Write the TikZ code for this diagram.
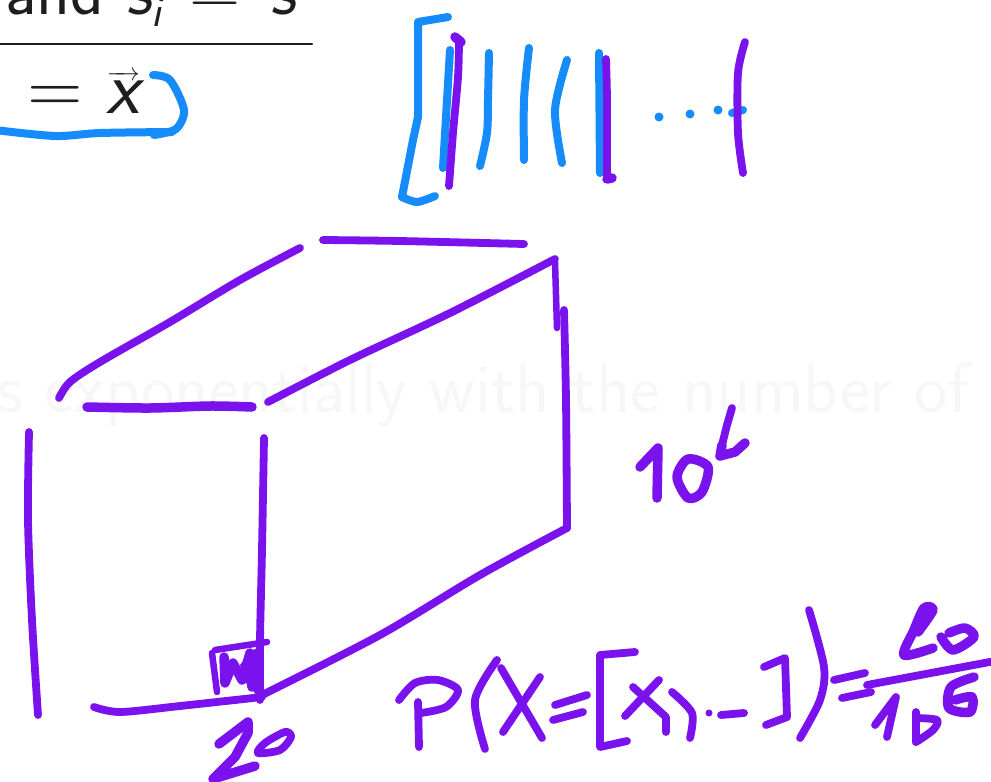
\documentclass[tikz,border=0pt]{standalone}
\usepackage{amsmath}
\definecolor{skViolet}{HTML}{7A12EE}
\definecolor{skBlue}{HTML}{168CFA}
\definecolor{skInk}{HTML}{1E1E1E}
\definecolor{skGhost}{HTML}{F7F7F7}
\newcommand{\SKType}{\sffamily\fontsize{76}{80}\selectfont}
\newcommand{\SKVar}[1]{\hbox{\sffamily\itshape #1}}
\tikzset{sk/base/.style={x=1pt,y=-1pt,line cap=round,line join=round,
  every node/.style={font=\SKType,inner sep=0pt,text=skInk}},
  sk/pen/.style={draw=skViolet,line width=7.8pt},
  sk/fine/.style={draw=skViolet,line width=6.5pt},
  sk/bold/.style={draw=skViolet,line width=9.5pt},
  sk/mark/.style={draw=skBlue,line width=8pt},
  sk/rule/.style={draw=skInk,line width=2.2pt}}
\begin{document}
\begin{tikzpicture}[sk/base]
  \clip (0,0) rectangle (991,782);
  \fill[white] (0,0) rectangle (991,782);
  % printed slide text behind the ink
  \node[anchor=base west,text=skGhost,font=\sffamily\fontsize{71}{75}\selectfont] (ghostline) at (-3,412) {s exponentially with the number of};
  \node[anchor=base west,font=\sffamily\fontsize{70}{75}\selectfont] (condline) at (5,14) {and \SKVar{s}\raisebox{-12pt}{\fontsize{44}{44}\selectfont\itshape i}\hspace{6pt} = \hspace{8pt}\SKVar{s}};
  \draw[sk/rule] (0,44)--(312,44);
  \node[anchor=base east] (vecline) at (140,113) {= $\overrightarrow{\SKVar{x}}$};
  % blue ink: loop and bracket
  \draw[sk/mark] plot[smooth] coordinates {(-5,130) (55,136) (100,133) (172,132)};
  \draw[sk/mark] plot[smooth] coordinates {(153,75) (170,80) (184,110) (176,129) (154,135)};
  \draw[sk/mark] (448,17)--(418,22)--(418,117)--(413,140)--(402,197);
  \draw[sk/mark] plot[smooth] coordinates {(402,197) (417,202) (435,196)};
  \draw[sk/mark] (450,50)--(443,168);
  \draw[sk/mark] plot[smooth] coordinates {(489,53) (488,100) (487,133) (480,166)};
  \draw[sk/mark] plot[smooth] coordinates {(529,48) (524,100) (524,160)};
  \draw[sk/mark] plot[smooth] coordinates {(567,60) (555,110) (562,163)};
  \draw[sk/mark] (599,53)--(600,173);
  \foreach \x/\y in {659/117,690/114,718/110}{
    \fill[skBlue] (\x,\y) circle (4.5pt);}
  \draw[sk/mark] (732,113)--(743,110);
  % violet separators
  \draw[sk/bold] (455,37)--(461,42);
  \draw[sk/pen] plot[smooth] coordinates {(459,42) (458,77) (453,133) (449,186)};
  \draw[sk/pen] plot[smooth] coordinates {(606,59) (607,100) (607,176)};
  \draw[sk/bold] (607,179)--(612,178);
  \draw[sk/pen] plot[smooth] coordinates {(745,42) (738,73) (738,133) (743,173)};
  % the cube
  \draw[sk/pen] plot[smooth] coordinates {(300,248) (240,280) (170,322) (100,362) (70,382) (59,398)};
  \draw[sk/pen] plot[smooth] coordinates {(323,240) (400,241) (524,244)};
  \draw[sk/bold] plot[smooth] coordinates {(87,407) (150,408) (210,406) (252,407)};
  \draw[sk/pen] plot[smooth] coordinates {(555,259) (450,313) (350,360) (268,402)};
  \draw[sk/fine] (555,262)--(557,328);
  \draw[sk/pen] plot[smooth] coordinates {(564,310) (566,400) (567,528)};
  \draw[sk/pen] plot[smooth] coordinates {(567,528) (480,575) (380,635) (262,695)};
  \draw[sk/pen] plot[smooth] coordinates {(29,432) (28,520) (32,620) (38,715)};
  \draw[sk/pen] plot[smooth] coordinates {(264,438) (262,550) (260,640) (260,700)};
  \draw[sk/pen] plot[smooth] coordinates {(94,707) (120,712) (180,706) (262,697)};
  % small cell in the corner
  \draw[sk/fine] (215,650)--(267,642);
  \draw[sk/fine] (212,653)--(217,692);
  \draw[sk/bold] (224,657)--(225,683)--(233,663)--(242,680)--(250,653)--(252,687)--(258,657)--(258,690);
  \fill[skViolet] (240,665)--(250,652)--(262,645)--(262,695)--(248,688)--cycle;
  % 20 below the corner
  \draw[sk/bold] (219,744)--(248,722)--(248,733)--(235,757)--(213,779)--(255,766);
  \draw[sk/pen] plot[smooth cycle] coordinates {(285,732) (265,743) (258,753) (280,750) (291,737)};
  % 10^6 on the side
  \draw[sk/bold] (640,467)--(658,448)--(657,498);
  \draw[sk/bold] plot[smooth cycle] coordinates {(688,459) (677,477) (688,498) (702,492) (708,467)};
  \draw[sk/pen] (732,408)--(727,425)--(722,445);
  \draw[sk/bold] (722,445)--(720,456)--(735,452)--(745,443);
  % probability formula
  \draw[sk/pen] (418,702)--(419,747);
  \draw[sk/pen] plot[smooth] coordinates {(399,700) (415,683) (438,680) (458,690) (446,707) (421,713)};
  \draw[sk/pen] plot[smooth] coordinates {(497,660) (475,700) (485,749)};
  \draw[sk/pen] (501,668)--(542,738);
  \draw[sk/pen] (540,677)--(503,732);
  \draw[sk/pen] (555,705)--(587,695);
  \draw[sk/pen] (553,720)--(583,712);
  \draw[sk/pen] (635,652)--(600,655)--(600,747)--(627,741);
  \draw[sk/pen] (633,687)--(666,717)--(666,732);
  \draw[sk/pen] (659,680)--(625,716);
  \draw[sk/pen] plot[smooth] coordinates {(672,692) (692,713) (690,738)};
  \fill[skViolet] (709,713) circle (3.5pt);
  \draw[sk/pen] (721,715)--(744,713);
  \draw[sk/pen] (764,667)--(785,658)--(787,717)--(766,725);
  \draw[sk/pen] plot[smooth] coordinates {(809,610) (824,667) (820,700) (800,738)};
  \draw[sk/pen] (834,680)--(865,673);
  \draw[sk/pen] (842,698)--(871,692);
  \draw[sk/pen] (867,685)--(995,661);
  \draw[sk/bold] plot[smooth] coordinates {(918,632) (933,610) (924,608) (914,630) (904,655) (933,648)};
  \draw[sk/bold] plot[smooth] coordinates {(941,637) (953,650) (974,637) (965,628) (949,633)};
  \draw[sk/pen] (875,725)--(896,697)--(887,737);
  \draw[sk/pen] (916,712)--(916,742);
  \draw[sk/pen] plot[smooth] coordinates {(916,718) (937,720) (933,730) (916,742)};
  \draw[sk/bold] plot[smooth] coordinates {(974,677) (951,687) (949,708) (970,712) (972,697) (955,700)};
\end{tikzpicture}
\end{document}
